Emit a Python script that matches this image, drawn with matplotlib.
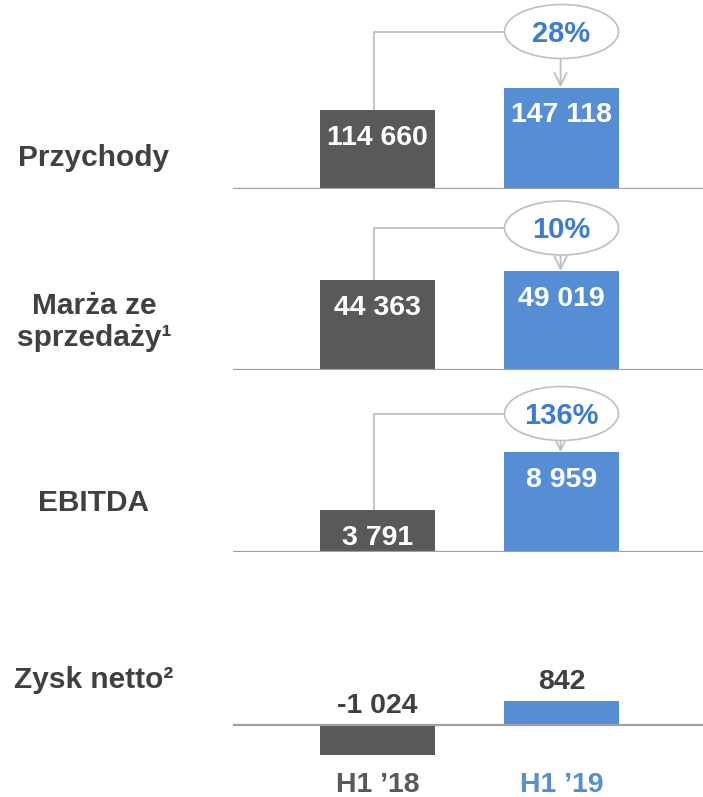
import matplotlib
matplotlib.use("Agg")
import matplotlib.pyplot as plt
from matplotlib.patches import Ellipse
from matplotlib.transforms import blended_transform_factory

plt.rcParams["font.family"] = ["Liberation Sans", "DejaVu Sans"]
plt.rcParams["font.weight"] = "bold"

# data
periods = ["H1 \u201918", "H1 \u201919"]
metrics = ["Przychody", "Marża ze\nsprzedaży¹", "EBITDA", "Zysk netto²"]
h1_18 = [114660, 44363, 3791, -1024]
h1_19 = [147118, 49019, 8959, 842]
growth = ["28%", "10%", "136%", None]

GREY = "#595959"
BLUE = "#558ED5"
PCT = "#3A7BD5"
DARK = "#404040"
BASE = "#A0A0A0"
CONN = "#BFBFBF"

W, H = 703, 797
fig = plt.figure(figsize=(W / 100, H / 100), dpi=100)

# layout, pixels from top of image
base_px = [188.5, 370, 552, 725]   # baseline of each panel
tall_px = [101, 99, 100, 29.5]     # pixel height of the tallest bar in a panel
ell_px = [157, 142, 138.5]         # ellipse centre above baseline
ell_h = 54
label_y = [158, 322, 503, 680]
X0, X1 = 233, 703
c0, c1 = 377.5, 561.5
step = c1 - c0
xlim = ((X0 - c0) / step, (X1 - c0) / step)
barw = 115 / step
ew = 114 / step


def fy(px):
    return 1 - px / H


def fmt(v):
    return f"{v:,}".replace(",", " ")


for i in range(4):
    a, b = h1_18[i], h1_19[i]
    base = base_px[i]
    s = max(abs(a), abs(b)) / tall_px[i]
    top = base - 185 if i < 3 else base - 90
    bot = base if i < 3 else base + 40
    ax = fig.add_axes([X0 / W, fy(bot), (X1 - X0) / W, (bot - top) / H])
    ax.set_xlim(xlim)
    ax.set_ylim(-(bot - base) * s, (base - top) * s)
    ax.axis("off")

    ax.bar([0, 1], [a, b], width=barw, color=[GREY, BLUE], zorder=2)
    ax.axhline(0, color=BASE, lw=1.6, zorder=3)

    for x, v in zip([0, 1], [a, b]):
        if i < 3:
            ax.annotate(fmt(v), (x, v), xytext=(0, -28), textcoords="offset pixels",
                        ha="center", va="center", color="white", fontsize=20.5, zorder=5)
        else:
            ax.annotate(fmt(v), (x, max(v, 0)), xytext=(0, 19), textcoords="offset pixels",
                        ha="center", va="center", color=DARK, fontsize=20.5, zorder=5)

    if growth[i]:
        ey = ell_px[i] * s
        eh = ell_h * s
        ax.add_patch(Ellipse((1, ey), ew, eh, fc="white", ec=CONN, lw=1.2,
                             zorder=4, clip_on=False))
        ax.annotate(growth[i], (1, ey), xytext=(0, -2), textcoords="offset pixels",
                    color=PCT, fontsize=21, ha="center", va="center",
                    zorder=5, annotation_clip=False)
        cx = (374 - c0) / step
        ax.plot([cx, cx, 1 - ew / 2], [a, ey, ey], color=CONN, lw=1.3, zorder=1,
                clip_on=False)
        ax.annotate("", xy=(0.995, b), xytext=(0.995, ey - eh / 2),
                    arrowprops=dict(arrowstyle="->,head_length=0.45,head_width=0.22",
                                    mutation_scale=20, color=CONN, lw=1.3,
                                    shrinkA=0, shrinkB=0), zorder=3)

    fig.text(94 / W, fy(label_y[i]), metrics[i], ha="center", va="center",
             fontsize=21.5, color=DARK, multialignment="center", linespacing=1.15)

    if i == 3:
        trans = blended_transform_factory(ax.transData, fig.transFigure)
        for x, lbl, col in zip([0, 1], periods, [GREY, BLUE]):
            ax.text(x, fy(785), lbl, transform=trans, ha="center", va="center",
                    fontsize=20.5, color=col)

fig.savefig("out.png", dpi=100)
